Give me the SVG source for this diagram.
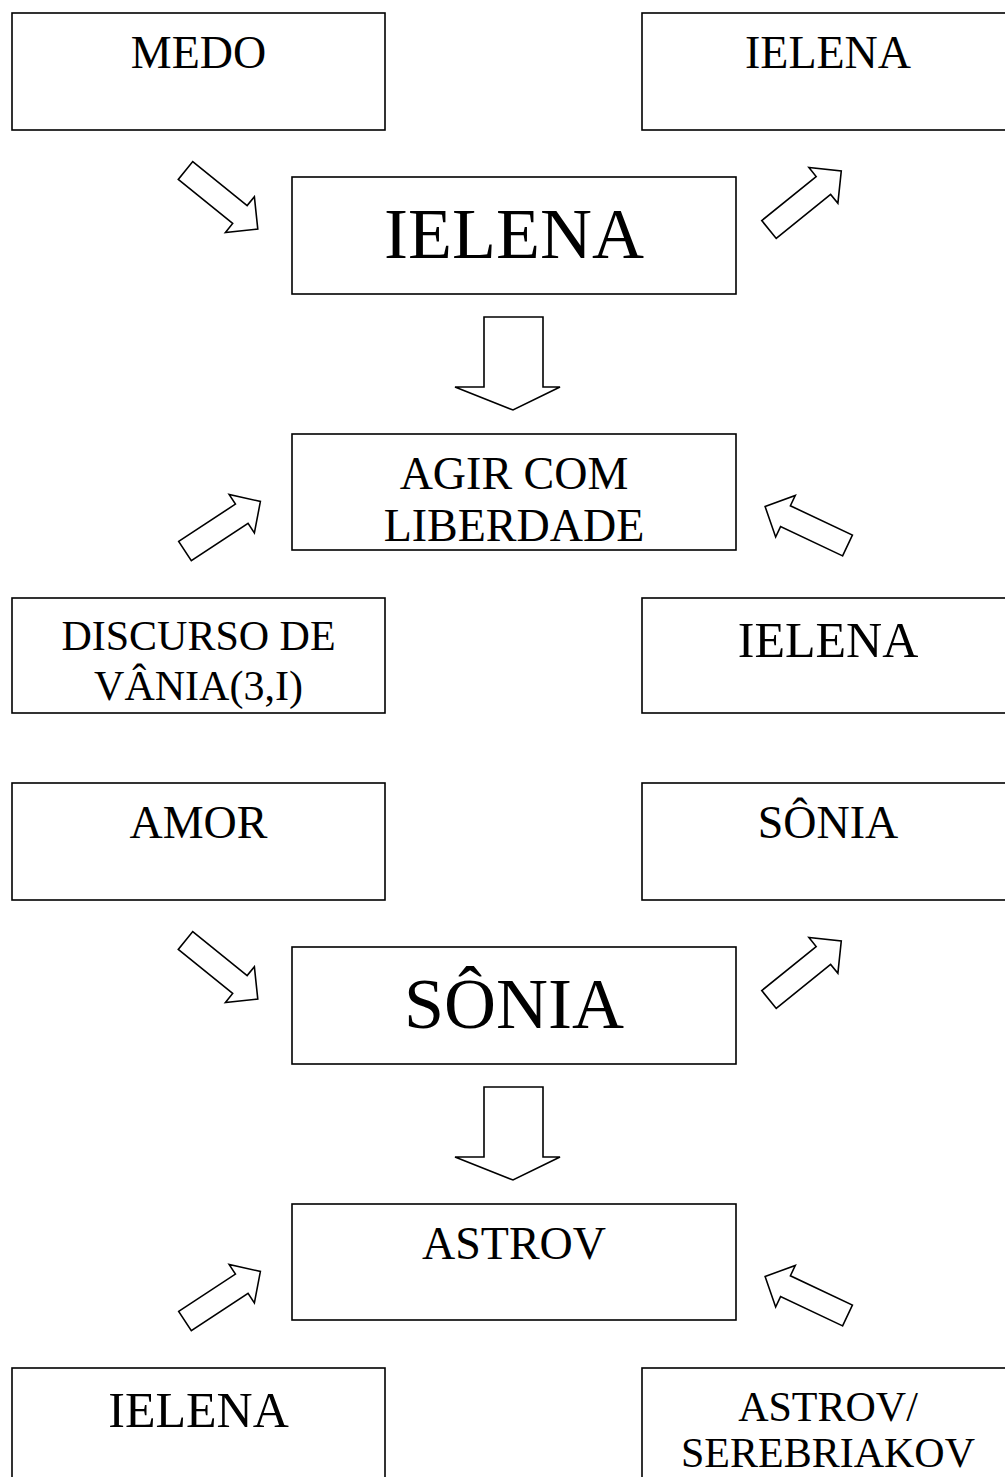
<svg xmlns="http://www.w3.org/2000/svg" width="1005" height="1477" viewBox="0 0 1005 1477">
<style>
.box{fill:#fff;stroke:#000;stroke-width:1.6}
.arr{fill:#fff;stroke:#000;stroke-width:1.6;stroke-linejoin:miter}
text{font-family:"Liberation Serif","Times New Roman",serif;fill:#000;text-anchor:middle}
.m{font-size:46px}
.l{font-size:50px}
.s{font-size:42px}
.b{font-size:72px}
</style>
<defs>
<path id="diag" d="M0,-11.5 L70,-11.5 L70,-23 L93,0 L70,23 L70,11.5 L0,11.5 Z"/>
<path id="down" d="M484,0 L543,0 L543,70 L560,70 L513,93 L455,70 L484,70 Z"/>
</defs>
<g id="medo"><rect class="box" x="12" y="13" width="373" height="117"/><text class="m" x="198.5" y="68">MEDO</text></g>
<g id="ielena-tr"><rect class="box" x="642" y="13" width="372" height="117"/><text class="m" x="828" y="68">IELENA</text></g>
<g id="ielena-c"><rect class="box" x="292" y="177" width="444" height="117"/><text class="b" x="514" y="258">IELENA</text></g>
<g id="agir"><rect class="box" x="292" y="434" width="444" height="116"/><text class="m" x="514" y="489">AGIR COM</text><text class="m" x="514" y="541">LIBERDADE</text></g>
<g id="discurso"><rect class="box" x="12" y="598" width="373" height="115"/><text class="s" x="198.5" y="650">DISCURSO DE</text><text class="s" x="198.5" y="700">VÂNIA(3,I)</text></g>
<g id="ielena-r"><rect class="box" x="642" y="598" width="372" height="115"/><text class="l" x="828" y="657">IELENA</text></g>
<g id="amor"><rect class="box" x="12" y="783" width="373" height="117"/><text class="m" x="198.5" y="838">AMOR</text></g>
<g id="sonia-tr"><rect class="box" x="642" y="783" width="372" height="117"/><text class="m" x="828" y="838">SÔNIA</text></g>
<g id="sonia-c"><rect class="box" x="292" y="947" width="444" height="117"/><text class="b" x="514" y="1028">SÔNIA</text></g>
<g id="astrov"><rect class="box" x="292" y="1204" width="444" height="116"/><text class="m" x="514" y="1259">ASTROV</text></g>
<g id="ielena-bl"><rect class="box" x="12" y="1368" width="373" height="115"/><text class="l" x="198.5" y="1427">IELENA</text></g>
<g id="astrov-sereb"><rect class="box" x="642" y="1368" width="372" height="115"/><text class="s" x="828" y="1421">ASTROV/</text><text class="s" x="828" y="1467">SEREBRIAKOV</text></g>
<g id="connectors">
<use href="#diag" class="arr" transform="translate(185.5,170.5) rotate(39)"/>
<use href="#diag" class="arr" transform="translate(769,229.5) rotate(-39)"/>
<use href="#down" class="arr" transform="translate(0,317)"/>
<use href="#diag" class="arr" transform="translate(185,551) rotate(-33.3) scale(0.97,1)"/>
<use href="#diag" class="arr" transform="translate(847.5,545.5) rotate(205.3) scale(0.98,1)"/>
<use href="#diag" class="arr" transform="translate(185.5,940.5) rotate(39)"/>
<use href="#diag" class="arr" transform="translate(769,999.5) rotate(-39)"/>
<use href="#down" class="arr" transform="translate(0,1087)"/>
<use href="#diag" class="arr" transform="translate(185,1321) rotate(-33.3) scale(0.97,1)"/>
<use href="#diag" class="arr" transform="translate(847.5,1315.5) rotate(205.3) scale(0.98,1)"/>
</g>
</svg>
